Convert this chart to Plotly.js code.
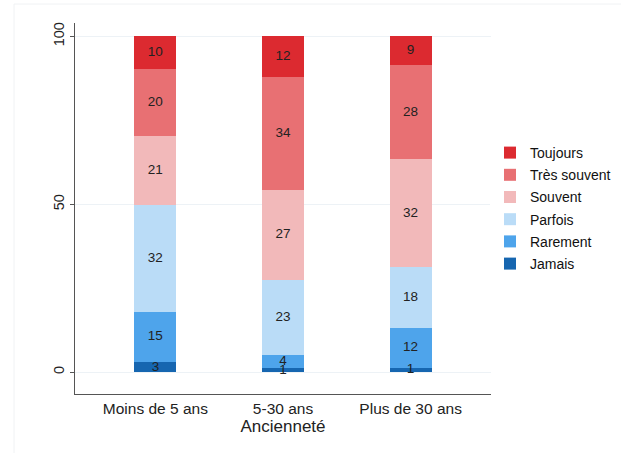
<!DOCTYPE html>
<html>
<head>
<meta charset="utf-8">
<script src="https://cdn.plot.ly/plotly-3.0.1.min.js"></script>
<style>html,body{margin:0;padding:0;background:#fff;}#chart{width:621px;height:453px;}</style>
</head>
<body>
<div id="chart"></div>
<script>
const categories = ["Moins de 5 ans", "5-30 ans", "Plus de 30 ans"];
const seriesNames = ["Jamais", "Rarement", "Parfois", "Souvent", "Très souvent", "Toujours"];
const jamais      = [3.0, 1.2, 1.3];
const rarement    = [14.9, 3.8, 12.0];
const parfois     = [31.8, 22.6, 17.9];
const souvent     = [20.6, 26.6, 32.3];
const tresSouvent = [20.1, 33.6, 27.9];
const toujours    = [9.6, 12.2, 8.6];
const yTicks = [0, 50, 100];
const colors = ["#1666b0", "#4ea4eb", "#badcf7", "#f2b9ba", "#e87073", "#dc2a30"];

const series = [jamais, rarement, parfois, souvent, tresSouvent, toujours];
const font = "Liberation Sans, Arial, sans-serif";
const traces = [];
const cum = categories.map(() => 0);
const textX = [], textY = [], textS = [];
series.forEach((vals, i) => {
  traces.push({
    type: "bar", x: categories, y: vals, name: seriesNames[i],
    marker: {color: colors[i], line: {width: 0}},
    width: 0.33, legendgroup: seriesNames[i], legendrank: 100 - i, hoverinfo: "none"
  });
  vals.forEach((v, j) => {
    textX.push(categories[j]);
    textY.push(cum[j] + v / 2);
    textS.push(String(Math.round(v)));
    cum[j] += v;
  });
});
traces.push({
  type: "scatter", mode: "text", x: textX, y: textY, text: textS,
  textfont: {family: font, size: 13.5, color: "#222"}, showlegend: false, hoverinfo: "none"
});

const layout = {
  width: 621, height: 453,
  margin: {l: 75, r: 130, t: 23, b: 59, autoexpand: false},
  paper_bgcolor: "#fff", plot_bgcolor: "#fff",
  barmode: "stack",
  font: {family: font, color: "#222"},
  showlegend: true,
  legend: {
    xref: "container", x: 490 / 621, xanchor: "left",
    y: 0.5, yanchor: "middle",
    traceorder: "grouped", tracegroupgap: 1,
    font: {family: font, size: 14, color: "#111"}
  },
  xaxis: {
    type: "category", range: [-0.63, 2.63],
    showline: true, linecolor: "#555", linewidth: 1,
    ticks: "", showgrid: false, zeroline: false,
    tickfont: {family: font, size: 15.5, color: "#222"},
    title: {text: "Ancienneté", font: {family: font, size: 17, color: "#222"}, standoff: 2}
  },
  yaxis: {
    range: [-6.5, 104], tickvals: yTicks, ticktext: yTicks.map(String),
    showline: true, linecolor: "#555", linewidth: 1,
    ticks: "outside", ticklen: 4, tickcolor: "#555",
    tickangle: -90, showgrid: true, gridcolor: "#edf2f6", gridwidth: 1, zeroline: false,
    tickfont: {family: font, size: 14.5, color: "#222"}
  },
  shapes: [{
    type: "rect", xref: "paper", yref: "paper",
    x0: (14 - 75) / 416, x1: (640 - 75) / 416,
    y0: (394 - 470) / 371, y1: (394 - 4) / 371,
    line: {color: "#f0f2f4", width: 1}, layer: "below"
  }]
};
Plotly.newPlot("chart", traces, layout, {staticPlot: true});
</script>
</body>
</html>
